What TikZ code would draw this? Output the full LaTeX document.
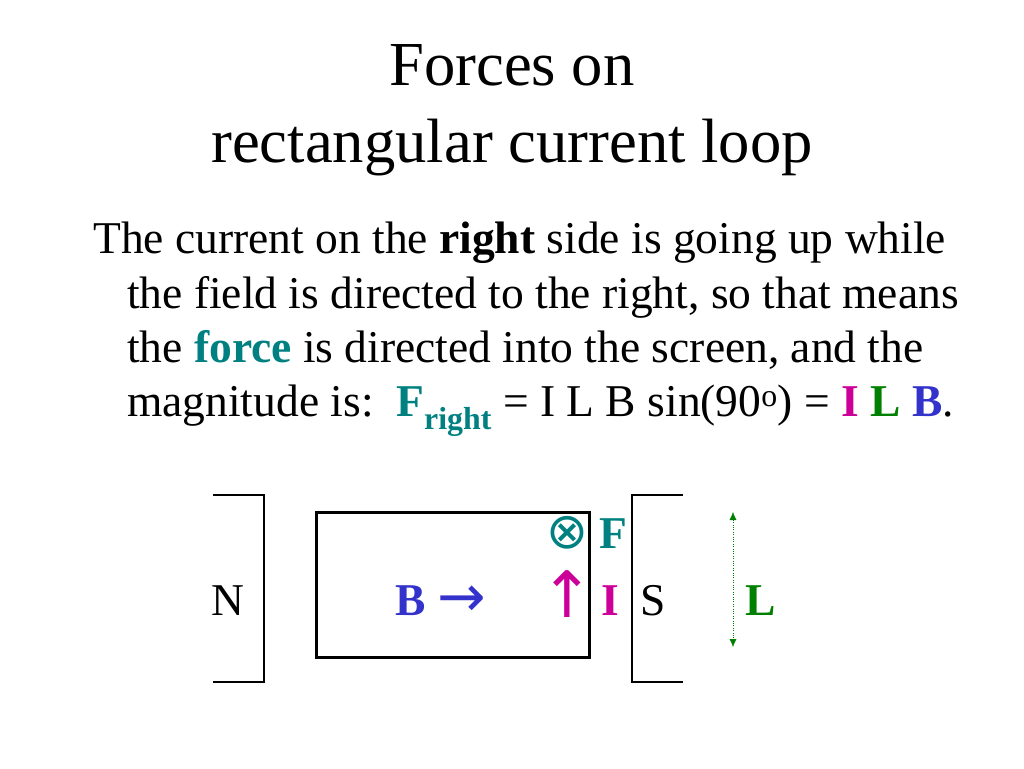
\documentclass[tikz,border=0pt]{standalone}
\usepackage{fontspec}
\setmainfont{Liberation Serif}
\newfontfamily\symfont{DejaVu Sans}
\usetikzlibrary{arrows.meta}
\definecolor{fteal}{RGB}{0,128,128}
\definecolor{bblue}{RGB}{51,51,204}
\definecolor{imag}{RGB}{204,0,153}
\definecolor{lgreen}{RGB}{0,128,0}

\begin{document}
\begin{tikzpicture}[x=1pt, y=-1pt,
    txt/.style = {anchor=base, inner sep=0pt,
                font=\fontsize{45.5}{54}\selectfont},
    para/.style = {txt, anchor=base west},
    ttl/.style = {anchor=base, inner sep=0pt,
                font=\fontsize{62.6}{75}\selectfont},
    sym/.style = {anchor=center, inner sep=0pt,
                font=\fontsize{#1}{#1}\symfont},
    bracket/.style = {line width=1.5pt}  % magnet poles
                    ]
        \useasboundingbox (0,0) rectangle (1024,768);
        % title
        \node[ttl] (ttlA) at (512,85) {Forces on};
        \node[ttl] (ttlB) at (512,162) {rectangular current loop};
        % text
        \node[para] (lineA) at (93,253) {The current on the \textbf{right} side is going up while};
        \node[para] (lineB) at (127,308) {the field is directed to the right, so that means};
        \node[para] (lineC) at (127,362) {the \textbf{\color{fteal}force} is directed into the screen, and the};
        \node[para] (lineD) at (127,416) {magnitude is:\ \ \textbf{\color{fteal}F\textsubscript{right}} = I L B sin(90\textsuperscript{o}) = \textbf{\color{imag}I} \textbf{\color{lgreen}L} \textbf{\color{bblue}B}.};
        % magnet and loop
        \foreach \x/\d in {264/-51, 632/51}
            \draw[bracket] (\x+\d,495) -- (\x,495) -- (\x,682) -- (\x+\d,682);
        \draw[line width=3pt] (316,512) rectangle (589,657);
        \node[txt] (N) at (228,615) {N};
        \node[txt] (S) at (653,615) {S};
        \node[txt, bblue] (B) at (411,615) {\textbf{B}};
        \node[sym=58, bblue] (Barr) at (462,601) {→};
        \node[sym=64, imag] (up) at (567,594) {↑};
        \node[txt, imag] (I) at (610,615) {\textbf{I}};
        \node[sym=50, fteal] (cross) at (567,533) {⊗};
        \node[txt, fteal] (F) at (613,548) {\textbf{F}};
        \node[txt, lgreen] (L) at (761,615) {\textbf{L}};
        \coordinate (Ltop) at (733,512);
        \coordinate (Lbot) at (733,647);
        \draw[lgreen, dotted, {Latex[length=8pt,width=7pt]}-{Latex[length=8pt,width=7pt]}] (Ltop) -- (Lbot);
    \end{tikzpicture}
\end{document}
